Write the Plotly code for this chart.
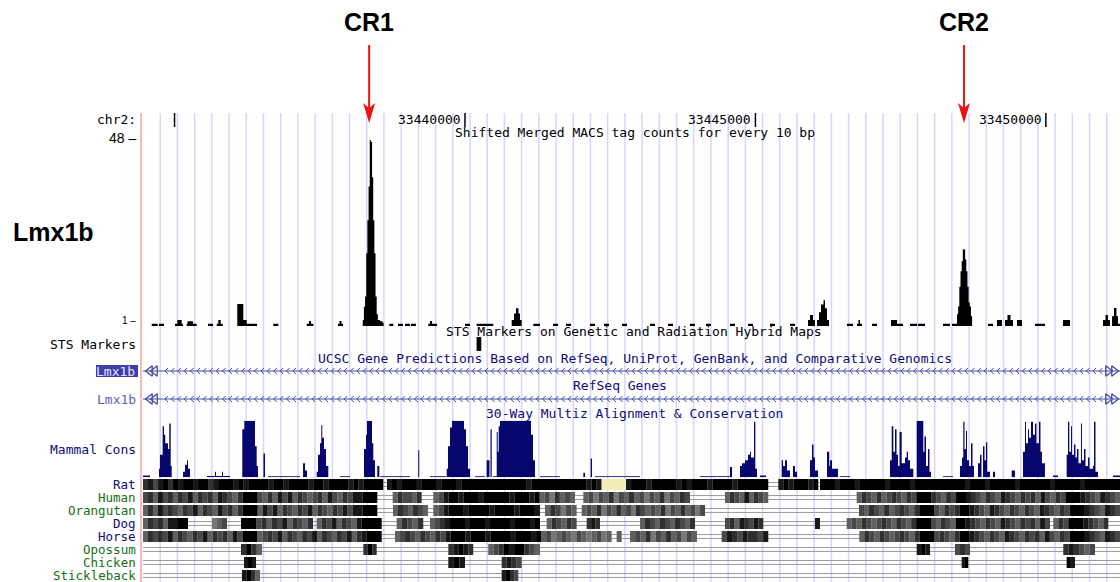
import numpy as np
import plotly.graph_objects as go

W, H = 1120, 582
VIEW_START, VIEW_END = 33434457, 33451276

# ---------------- data ----------------
ruler_ticks = [33435000, 33440000, 33445000, 33450000]
ruler_labels = ["", "33440000", "33445000", "33450000"]

# MACS tag counts: (start, end, count)
macs_segments = [
    (33434607, 33434710, 0.6), (33434732, 33434818, 0.6),
    (33435008, 33435146, 0.6), (33435048, 33435123, 1.5),
    (33435209, 33435381, 0.6), (33435223, 33435318, 1.2),
    (33435576, 33435662, 0.6),
    (33435726, 33435829, 0.6), (33435753, 33435794, 1.5),
    (33436080, 33436184, 5.6), (33436184, 33436242, 1.5), (33436242, 33436420, 0.6),
    (33436700, 33436786, 0.6),
    (33437275, 33437389, 0.6), (33437315, 33437349, 1.3),
    (33437814, 33437900, 0.6), (33437840, 33437874, 1.3),
    (33438697, 33438766, 0.6), (33438847, 33438933, 0.6),
    (33438967, 33439053, 0.6), (33439070, 33439156, 0.6),
    (33439368, 33439518, 0.6), (33439398, 33439432, 1.3),
    (33440000, 33440086, 0.6), (33440201, 33440487, 0.6),
    (33440804, 33440844, 1.5), (33440844, 33440878, 3.2), (33440878, 33440921, 4.5),
    (33440921, 33440947, 3.2), (33440947, 33440976, 1.5),
    (33441176, 33441291, 0.6),
    (33441515, 33441601, 0.6), (33441739, 33441825, 0.6), (33442152, 33442238, 0.6),
    (33442393, 33442479, 0.6), (33442703, 33442789, 0.6), (33443185, 33443271, 0.6),
    (33443495, 33443581, 0.6), (33443873, 33443959, 0.6), (33444149, 33444235, 0.6),
    (33444562, 33444648, 0.6), (33444872, 33444958, 0.6), (33445251, 33445337, 0.6),
    (33445595, 33445681, 0.6),
    (33445905, 33445939, 1.5), (33445939, 33445991, 2.8), (33445991, 33446025, 1.5),
    (33446060, 33446094, 1.5), (33446094, 33446129, 3.5), (33446129, 33446172, 5.5),
    (33446172, 33446198, 6.6), (33446198, 33446232, 4.5), (33446232, 33446267, 1.5),
    (33446576, 33446680, 0.6),
    (33446749, 33446835, 0.6), (33446774, 33446800, 1.5),
    (33447007, 33447093, 0.6),
    (33447334, 33447437, 1.5), (33447437, 33447541, 0.6),
    (33447661, 33447782, 0.6), (33447799, 33447919, 0.6),
    (33448229, 33448349, 0.6), (33448384, 33448470, 0.6),
    (33449003, 33449090, 0.6), (33449158, 33449244, 1.5),
    (33449296, 33449339, 1.5), (33449339, 33449391, 2.8), (33449391, 33449434, 1.5),
    (33449503, 33449589, 1.5), (33449812, 33449984, 0.6),
    (33450294, 33450415, 1.5),
    (33450983, 33451026, 1.5), (33451026, 33451069, 2.8), (33451069, 33451103, 1.5),
    (33451138, 33451172, 2.5), (33451172, 33451215, 4.6), (33451215, 33451241, 2.5),
    (33451241, 33451276, 0.6),
]
MACS_BIN = 20
cr1_start = 33438240
cr1_counts = [1.5, 4.9, 7.5, 18.6, 27, 35.6, 47.5, 47, 38, 27, 18.6, 7.5, 3, 1.5, 1.5, 1.2, 1.2, 0.8]
cr2_start = 33448470
cr2_counts = [3, 5, 10, 14, 16.5, 19.6, 19.5, 17, 14, 10, 6, 5, 2.5]
MACS_MAX = 48

peak_names = ["CR1", "CR2"]
peak_summits = [33438350, 33448590]

sts_markers = [(33440200, 33440280)]

gene_track_titles = ["UCSC Gene Predictions Based on RefSeq, UniProt, GenBank, and Comparative Genomics",
                     "RefSeq Genes"]
gene_names = ["Lmx1b", "Lmx1b"]

# Mammal conservation: (start, end, score)
cons_segments = [
    (33434457, 33434577, 0.03), (33434732, 33434749, 0.15), (33434749, 33434795, 0.4),
    (33434795, 33434818, 0.9), (33434818, 33434840, 0.75), (33434840, 33434887, 0.6),
    (33434887, 33434909, 0.5), (33434909, 33434934, 0.95), (33434934, 33434951, 0.2),
    (33435146, 33435180, 0.1), (33435180, 33435215, 0.22), (33435215, 33435232, 0.3),
    (33435232, 33435266, 0.15), (33435559, 33435955, 0.025), (33435697, 33435714, 0.1),
    (33435817, 33435834, 0.1),
    (33436166, 33436201, 0.85), (33436201, 33436385, 1.0), (33436385, 33436414, 0.55),
    (33436414, 33436437, 0.2), (33436531, 33436557, 0.42), (33436609, 33437160, 0.02),
    (33437212, 33437246, 0.25), (33437246, 33437281, 0.12),
    (33437447, 33437470, 0.1), (33437470, 33437504, 0.4), (33437504, 33437526, 0.6),
    (33437526, 33437543, 0.92), (33437543, 33437573, 0.7), (33437573, 33437607, 0.5),
    (33437607, 33437647, 0.2), (33437848, 33438021, 0.02),
    (33438262, 33438296, 0.5), (33438296, 33438313, 0.75), (33438313, 33438399, 1.0),
    (33438399, 33438422, 0.6), (33438422, 33438451, 0.3), (33438490, 33438525, 0.2),
    (33438537, 33439053, 0.02), (33439196, 33439213, 0.48), (33439398, 33439673, 0.02),
    (33439685, 33439707, 0.15), (33439707, 33439742, 0.55), (33439742, 33439776, 0.88),
    (33439776, 33439983, 1.0), (33439983, 33440017, 0.85), (33440017, 33440052, 0.55),
    (33440052, 33440086, 0.15), (33440172, 33440344, 0.02),
    (33440373, 33440422, 0.3), (33440439, 33440460, 0.85), (33440482, 33440546, 0.02),
    (33440546, 33440563, 0.8), (33440563, 33440580, 0.45), (33440580, 33440603, 0.9),
    (33440603, 33441136, 1.0), (33441136, 33441171, 0.75), (33441171, 33441205, 0.3),
    (33441291, 33441635, 0.02), (33442037, 33442066, 0.08), (33442164, 33442186, 0.33),
    (33442238, 33443013, 0.02),
    (33444046, 33444562, 0.02), (33444562, 33444597, 0.18),
    (33444734, 33444769, 0.2), (33444769, 33444820, 0.25), (33444820, 33444872, 0.3),
    (33444872, 33444906, 0.4), (33444906, 33444923, 0.45), (33444923, 33444975, 0.35),
    (33444975, 33444998, 0.98), (33444998, 33445027, 0.15), (33445078, 33445182, 0.03),
    (33445452, 33445475, 0.3), (33445475, 33445509, 0.2), (33445509, 33445543, 0.3),
    (33445543, 33445595, 0.12), (33445646, 33445681, 0.2), (33445681, 33445715, 0.1),
    (33445939, 33445974, 0.3), (33445974, 33446000, 0.58), (33446000, 33446025, 0.35),
    (33446025, 33446077, 0.12), (33446232, 33446271, 0.45), (33446271, 33446284, 0.2),
    (33446284, 33446318, 0.3), (33446318, 33446421, 0.15), (33446456, 33446628, 0.02),
    (33447317, 33447346, 0.3), (33447346, 33447374, 0.9), (33447374, 33447403, 0.45),
    (33447403, 33447429, 0.85), (33447429, 33447455, 0.4), (33447455, 33447481, 0.2),
    (33447481, 33447518, 0.8), (33447518, 33447575, 0.25), (33447575, 33447604, 0.35),
    (33447604, 33447627, 0.45), (33447627, 33447661, 0.3), (33447661, 33447718, 0.15),
    (33447776, 33447890, 1.0), (33447890, 33447910, 0.45), (33447910, 33447936, 0.72),
    (33447936, 33447970, 0.2), (33447970, 33447996, 0.5), (33447996, 33448022, 0.1),
    (33448229, 33448401, 0.02),
    (33448521, 33448556, 0.2), (33448556, 33448578, 0.35), (33448578, 33448599, 0.98),
    (33448599, 33448625, 0.5), (33448625, 33448642, 0.82), (33448642, 33448676, 0.3),
    (33448676, 33448711, 0.2), (33448711, 33448737, 0.6), (33448737, 33448762, 0.2),
    (33448831, 33448866, 0.25), (33448866, 33448892, 0.4), (33448918, 33448943, 0.55),
    (33448943, 33448969, 0.3), (33448969, 33448991, 0.62), (33448991, 33449038, 0.1),
    (33449090, 33449124, 0.1), (33449411, 33449468, 0.12),
    (33449606, 33449640, 0.45), (33449640, 33449657, 0.98), (33449657, 33449692, 0.6),
    (33449692, 33449709, 0.85), (33449709, 33449743, 0.7), (33449743, 33449778, 0.98),
    (33449778, 33449812, 0.75), (33449812, 33449838, 0.95), (33449838, 33449881, 0.6),
    (33449881, 33449907, 0.98), (33449907, 33449932, 0.45), (33449932, 33449984, 0.25),
    (33450122, 33450208, 0.03),
    (33450358, 33450381, 0.4), (33450381, 33450403, 0.98), (33450403, 33450432, 0.45),
    (33450432, 33450449, 0.9), (33450449, 33450484, 0.4), (33450484, 33450509, 0.58),
    (33450509, 33450535, 0.35), (33450535, 33450561, 0.5), (33450561, 33450604, 0.25),
    (33450604, 33450621, 0.95), (33450621, 33450656, 0.3), (33450656, 33450682, 0.5),
    (33450682, 33450725, 0.2), (33450725, 33450751, 0.35), (33450751, 33450811, 0.15),
    (33450811, 33450828, 0.2), (33450828, 33450854, 0.98), (33450854, 33450897, 0.1),
    (33451155, 33451276, 0.03),
]

species = ["Rat", "Human", "Orangutan", "Dog", "Horse", "Opossum", "Chicken", "Stickleback"]
species_colors = ["#0c0c78", "#137013", "#137013", "#0c0c78", "#0c0c78",
                  "#137013", "#137013", "#137013"]

# aligned blocks per species: (start, end, per-column darkness 0-9)
multiz_blocks = {
    "Rat": [
        (33434457, 33438594, "786897989989978999898999989989999899899998989999"),
        (33438657, 33442353, "8989998999899989999999999999899999999999898"),
        (33442771, 33445221, "8999899999898999899998999999"),
        (33445394, 33446082, "89899989"),
        (33446111, 33451276, "999899989999989999899999999998999899999899999989999989999999"),
    ],
    "Human": [
        (33434457, 33438491, "67586757685767587657" "999" "6575868576567586576" "88999"),
        (33438755, 33439254, "576657"),
        (33439455, 33441894, "56" "8998999899999899989" "5647565"),
        (33442037, 33443873, "564657465756465746576"),
        (33444476, 33445221, "576585765"),
        (33446743, 33451276, "576575676576" "999" "76576" "99" "87657658765767586576" "999" "87658765"),
    ],
    "Orangutan": [
        (33434457, 33438491, "57586765768576586757" "999" "5868576576857657686" "88999"),
        (33438761, 33439363, "5765765"),
        (33439455, 33441291, "568999899998999989998"),
        (33441377, 33441922, "576465"),
        (33442009, 33444132, "5657465756476565746575646"),
        (33446783, 33451276, "657657567657" "999" "65767" "99" "87658765765765876576" "999" "8765876"),
    ],
    "Dog": [
        (33434457, 33435232, "576758899"),
        (33435645, 33435903, "456"),
        (33436144, 33437384, "999" "67576857657"),
        (33437447, 33438566, "5768576589999"),
        (33438824, 33439282, "57657"),
        (33439398, 33441291, "5678999899989999899989"),
        (33441406, 33441922, "576576"),
        (33442095, 33442324, "787"),
        (33443013, 33443960, "57657657657"),
        (33444476, 33445135, "67587687"),
        (33446025, 33446111, "8"),
        (33446571, 33450071, "56576567657657" "999" "65765" "99" "87657658765767586"),
        (33450128, 33451075, "57699987657"),
    ],
    "Horse": [
        (33434457, 33438566, "57676857657685767586" "999" "567685765768576576857" "8999"),
        (33438795, 33442525, "5676576576" "8999899989999899989" "56456546545645"),
        (33442611, 33442697, "5"),
        (33442841, 33443994, "5657465756465"),
        (33444419, 33445221, "687687768"),
        (33446788, 33451276, "576576567657" "999" "67657" "99" "87657658765767586576" "999" "8765876"),
    ],
    "Opossum": [
        (33436144, 33436505, "7975"),
        (33438250, 33438480, "797"),
        (33439713, 33440143, "78987"),
        (33440401, 33441291, "5679899765"),
        (33447776, 33448005, "898"),
        (33448435, 33448694, "676"),
        (33450300, 33450845, "787656"),
    ],
    "Chicken": [
        (33436196, 33436403, "898"),
        (33439713, 33440000, "898"),
        (33440632, 33440976, "7876"),
        (33448550, 33448664, "89"),
        (33450358, 33450501, "98"),
    ],
    "Stickleback": [
        (33436161, 33436471, "8975"),
        (33440632, 33440918, "8976"),
    ],
}
unknown_bases = {"Rat": [(33442353, 33442771)]}

# ---------------- styling ----------------
MONO = "DejaVu Sans Mono"
SANS = "Liberation Sans, Arial, sans-serif"
TXT = 13
NAVY = "#0c0c78"
GENE_COLOR = "#4a4aa2"
CONS_COLOR = "#06066e"
GRID_COLOR = "#d6d6fb"
ARROW_RED = "#ee1111"
PX_PER_BP = (W - 143) / (VIEW_END - VIEW_START)


def px_x(x):
    return x / W


def px_y(y):
    return 1 - y / H


def rect_path(segments, base=0.0):
    xs, ys = [], []
    for s, e, v in segments:
        xs += [s, e, e, s, s, None]
        ys += [base, base, v, v, base, None]
    return xs, ys


def filled(xs, ys, color, yaxis):
    return go.Scatter(x=xs, y=ys, mode="lines", fill="toself", fillcolor=color,
                      line=dict(width=0, color=color), yaxis=yaxis,
                      hoverinfo="skip", showlegend=False)


fig = go.Figure()

# MACS signal
signal = list(macs_segments)
for start, counts in ((cr1_start, cr1_counts), (cr2_start, cr2_counts)):
    for i, c in enumerate(counts):
        signal.append((start + i * MACS_BIN, start + (i + 1) * MACS_BIN, c))
xs, ys = rect_path(signal)
fig.add_trace(filled(xs, ys, "#000000", "y"))

# STS markers
xs, ys = rect_path([(s, e, 1.0) for s, e in sts_markers])
fig.add_trace(filled(xs, ys, "#000000", "y2"))

# gene models (minus-strand chevrons across the view)
for row in range(len(gene_names)):
    fig.add_trace(go.Scatter(x=[VIEW_START, VIEW_END], y=[row, row], mode="lines",
                             line=dict(color=GENE_COLOR, width=1.2), yaxis="y3",
                             hoverinfo="skip", showlegend=False))
    arm = 3 / PX_PER_BP
    cx, cy = [], []
    for xc in np.arange(VIEW_START + 22 / PX_PER_BP, VIEW_END - 18 / PX_PER_BP, 6.4 / PX_PER_BP):
        cx += [xc + arm, xc, xc + arm, None]
        cy += [row - 0.11, row, row + 0.11, None]
    fig.add_trace(go.Scatter(x=cx, y=cy, mode="lines", line=dict(color=GENE_COLOR, width=1),
                             yaxis="y3", hoverinfo="skip", showlegend=False))
    ends_x = [VIEW_START + 7 / PX_PER_BP, VIEW_START + 12 / PX_PER_BP]
    fig.add_trace(go.Scatter(x=ends_x, y=[row, row], mode="markers",
                             marker=dict(symbol="triangle-left-open", size=9,
                                         color=GENE_COLOR, line=dict(width=1.3, color=GENE_COLOR)),
                             yaxis="y3", hoverinfo="skip", showlegend=False))
    ends_x = [VIEW_END - 12 / PX_PER_BP, VIEW_END - 6 / PX_PER_BP]
    fig.add_trace(go.Scatter(x=ends_x, y=[row, row], mode="markers",
                             marker=dict(symbol="triangle-right-open", size=9,
                                         color=GENE_COLOR, line=dict(width=1.3, color=GENE_COLOR)),
                             yaxis="y3", hoverinfo="skip", showlegend=False))

# Mammal conservation
xs, ys = rect_path(cons_segments)
fig.add_trace(filled(xs, ys, CONS_COLOR, "y4"))

# multiz: double gap lines under each species row
lx, ly = [], []
for i in range(len(species)):
    for off in (-0.15, 0.15):
        lx += [VIEW_START, VIEW_END, None]
        ly += [i + off, i + off, None]
fig.add_trace(go.Scatter(x=lx, y=ly, mode="lines", line=dict(color="#9a9a9a", width=1),
                         yaxis="y5", hoverinfo="skip", showlegend=False))

# multiz: aligned blocks shaded by conservation level
by_shade = {d: [] for d in range(10)}
for i, sp in enumerate(species):
    for s, e, shades in multiz_blocks[sp]:
        edges = np.linspace(s, e, len(shades) + 1)
        for j, ch in enumerate(shades):
            by_shade[int(ch)].append((i, edges[j], edges[j + 1]))
for d, cells in by_shade.items():
    if not cells:
        continue
    g = int(round(215 * (1 - d / 9)))
    color = f"rgb({g},{g},{g})"
    xs, ys = [], []
    for i, a, b in cells:
        xs += [a, b, b, a, a, None]
        ys += [i - 0.42, i - 0.42, i + 0.42, i + 0.42, i - 0.42, None]
    fig.add_trace(filled(xs, ys, color, "y5"))
for sp, regions in unknown_bases.items():
    i = species.index(sp)
    xs, ys = [], []
    for a, b in regions:
        xs += [a, b, b, a, a, None]
        ys += [i - 0.42, i - 0.42, i + 0.42, i + 0.42, i - 0.42, None]
    fig.add_trace(filled(xs, ys, "#f3efb4", "y5"))

# ---------------- shapes ----------------
shapes = []
grid_step = 17.21 / PX_PER_BP
g = VIEW_START + grid_step
while g < VIEW_END:
    shapes.append(dict(type="line", xref="x", yref="paper", x0=g, x1=g,
                       y0=px_y(582), y1=px_y(113), layer="below",
                       line=dict(color=GRID_COLOR, width=1.5)))
    g += grid_step
shapes.append(dict(type="line", xref="paper", yref="paper", x0=px_x(141), x1=px_x(141),
                   y0=px_y(582), y1=px_y(113), line=dict(color="#ffb8b8", width=2)))
for t in ruler_ticks:
    shapes.append(dict(type="line", xref="x", yref="paper", x0=t, x1=t,
                       y0=px_y(127), y1=px_y(113), line=dict(color="#000000", width=1.5)))
# highlighted gene label box
shapes.append(dict(type="rect", xref="paper", yref="paper", x0=px_x(96), x1=px_x(138),
                   y0=px_y(377), y1=px_y(365), fillcolor="#3e3ea6", line=dict(width=0)))
# red pointers to the two peaks
half = 6 / PX_PER_BP
for xpk in peak_summits:
    shapes.append(dict(type="line", xref="x", yref="paper", x0=xpk, x1=xpk,
                       y0=px_y(45), y1=px_y(108), line=dict(color=ARROW_RED, width=2)))
    shapes.append(dict(type="path", xref="x", yref="paper",
                       path=(f"M {xpk - half} {px_y(103)} L {xpk} {px_y(123)} "
                             f"L {xpk + half} {px_y(103)} L {xpk} {px_y(108)} Z"),
                       fillcolor=ARROW_RED, line=dict(width=0)))

# ---------------- text ----------------
ann = []


def text(x, y, s, size=TXT, color="#000000", family=MONO, anchor="center", xref="paper", yref="paper"):
    ann.append(dict(x=x, y=y, xref=xref, yref=yref, text=s, showarrow=False,
                    xanchor=anchor, yanchor="middle",
                    font=dict(family=family, size=size, color=color)))


for name, xpk in zip(peak_names, peak_summits):
    text(xpk, px_y(22), f"<b>{name}</b>", size=25, family=SANS, xref="x")
text(px_x(11), px_y(232), "<b>Lmx1b</b>", size=25, family=SANS, anchor="left")

text(px_x(138), px_y(120), "chr2:", anchor="right")
for t, lab in zip(ruler_ticks, ruler_labels):
    if lab:
        ann.append(dict(x=t, y=px_y(120), xref="x", yref="paper", text=lab, showarrow=False,
                        xanchor="right", yanchor="middle", xshift=-2,
                        font=dict(family=MONO, size=TXT, color="#000000")))

text(px_x(138), px_y(138), f"{MACS_MAX} –", size=14, family=SANS, anchor="right")
text(px_x(138), px_y(320), "1 –", size=10, family=SANS, anchor="right")
text(px_x(635), px_y(133), "Shifted Merged MACS tag counts for every 10 bp")
text(px_x(634), px_y(331), "STS Markers on Genetic and Radiation Hybrid Maps")
text(px_x(138), px_y(344), "STS Markers", anchor="right")
text(px_x(635), px_y(358), gene_track_titles[0], color=NAVY)
text(px_x(137), px_y(371), gene_names[0], color="#e4e4ff", anchor="right")
text(px_x(620), px_y(385), gene_track_titles[1], color=NAVY)
text(px_x(138), px_y(399), gene_names[1], color="#6262b8", anchor="right")
text(px_x(634), px_y(413), "30-Way Multiz Alignment & Conservation", color=NAVY)
text(px_x(138), px_y(449), "Mammal Cons", color=NAVY, anchor="right")
for i, (sp, col) in enumerate(zip(species, species_colors)):
    text(px_x(138), i, sp, size=12.5, color=col, anchor="right", yref="y5")

# ---------------- layout ----------------
hidden = dict(visible=False, fixedrange=True)
fig.update_layout(
    width=W, height=H, margin=dict(l=0, r=0, t=0, b=0),
    paper_bgcolor="#ffffff", plot_bgcolor="rgba(0,0,0,0)", showlegend=False,
    xaxis=dict(domain=[143 / W, 1], range=[VIEW_START, VIEW_END], **hidden),
    yaxis=dict(domain=[px_y(326), px_y(138)], range=[0, MACS_MAX], **hidden),
    yaxis2=dict(domain=[px_y(351), px_y(337)], range=[0, 1], anchor="x", **hidden),
    yaxis3=dict(domain=[px_y(413), px_y(357)], range=[1.5, -0.5], anchor="x", **hidden),
    yaxis4=dict(domain=[px_y(477.3), px_y(420.7)], range=[0, 1], anchor="x", **hidden),
    yaxis5=dict(domain=[0, px_y(478)], range=[7.5, -0.5], anchor="x", **hidden),
    shapes=shapes, annotations=ann,
)

fig.write_html("out.html")
